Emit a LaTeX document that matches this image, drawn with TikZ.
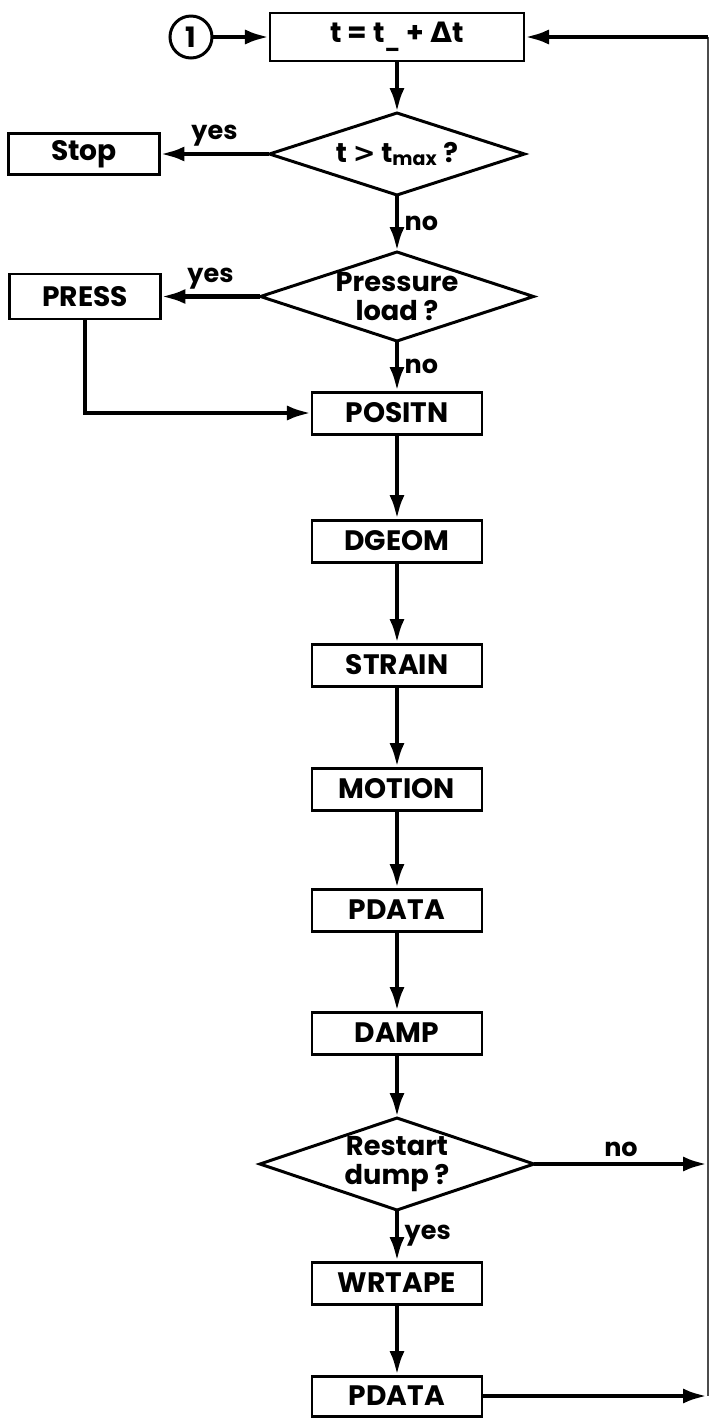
\documentclass[tikz,border=0pt]{standalone}
\usepackage{fontspec}
\setmainfont{Poppins}
\newfontfamily\dvsans{DejaVu Sans}
\usetikzlibrary{positioning,arrows.meta,shapes.geometric}
\tikzset{
 prc/.style={rectangle, draw, line width=1.7pt, outer sep=0pt, minimum width=3.4cm,
 minimum height=0.84cm, inner sep=2pt, font=\fontsize{16}{18}\selectfont\bfseries},
 dcs/.style={diamond, aspect=3, draw, line width=1.7pt, outer sep=0pt, inner sep=0pt,
 align=center, font=\fontsize{15.5}{16}\selectfont\bfseries},
 con/.style={circle, draw, line width=1.7pt, outer sep=0pt, minimum size=0.84cm,
 inner sep=0pt, font=\fontsize{16}{18}\selectfont\bfseries},
 lbl/.style={font=\fontsize{14.5}{16}\selectfont\bfseries, inner sep=3pt},
 fl/.style={-{Latex[length=5mm,width=3mm]}, line width=2.8pt},
 ret/.style={draw=black!70, line width=1pt},
}

\begin{document}
\begin{tikzpicture}
 \useasboundingbox (-7.94,0.74) rectangle (6.26,-27.66);
 % main column
 \node[prc, minimum width=5.08cm, minimum height=0.96cm] (T) at (0,0)
 {t = t\textsubscript{\_} + {\dvsans\bfseries Δ}t};
 \node[con, left=1.16cm of T] (C1) {1};
 \node[dcs, below=1.04cm of T, minimum width=5.1cm, minimum height=1.64cm] (D1)
 {t {\dvsans\bfseries >} t\textsubscript{max} ?};
 \node[dcs, below=1.14cm of D1, minimum width=5.46cm, minimum height=1.78cm] (D2)
 {Pressure\\load ?};
 \node[prc, below=1.02cm of D2] (POS) {POSITN};
 \node[prc, below=1.72cm of POS] (DG) {DGEOM};
 \node[prc, below=1.64cm of DG] (STR) {STRAIN};
 \node[prc, below=1.64cm of STR] (MOT) {MOTION};
 \node[prc, below=1.58cm of MOT] (PD1) {PDATA};
 \node[prc, below=1.62cm of PD1] (DMP) {DAMP};
 \node[dcs, below=1.28cm of DMP, minimum width=5.48cm, minimum height=1.84cm] (D3)
 {Restart\\dump ?};
 \node[prc, below=1.04cm of D3] (WRT) {WRTAPE};
 \node[prc, below=1.44cm of WRT, minimum height=0.8cm] (PD2) {PDATA};
 % side branches
 \node[prc, left=2.2cm of D1, minimum width=3.02cm, minimum height=0.82cm] (STP) {Stop};
 \node[prc, left=2.0cm of D2, minimum width=3.02cm, minimum height=0.9cm] (PRS) {PRESS};
 \coordinate (rt) at (6.22,0);

 \draw[fl] (C1) -- (T);
 \draw[fl] (T) -- (D1);
 \draw[fl] (D1) -- node[midway,right,lbl]{no} (D2);
 \draw[fl] (D1) -- node[midway,above,lbl]{yes} (STP);
 \draw[fl] (D2) -- node[midway,above,lbl]{yes} (PRS);
 \draw[fl] (D2) -- node[midway,right,lbl]{no} (POS);
 \draw[fl] (PRS.south) |- (POS.west);
 \draw[fl] (POS) -- (DG); \draw[fl] (DG) -- (STR);
 \draw[fl] (STR) -- (MOT); \draw[fl] (MOT) -- (PD1);
 \draw[fl] (PD1) -- (DMP); \draw[fl] (DMP) -- (D3);
 \draw[fl] (D3) -- node[midway,right,lbl]{yes} (WRT);
 \draw[fl] (WRT) -- (PD2);
 % return path
 \draw[ret] (rt) -- (rt |- PD2.east);
 \draw[fl] (D3.east) -- node[midway,above,lbl]{no} (D3.east -| rt);
 \draw[fl] (PD2.east) -- (PD2.east -| rt);
 \draw[fl] (rt) -- (T.east);
\end{tikzpicture}
\end{document}
